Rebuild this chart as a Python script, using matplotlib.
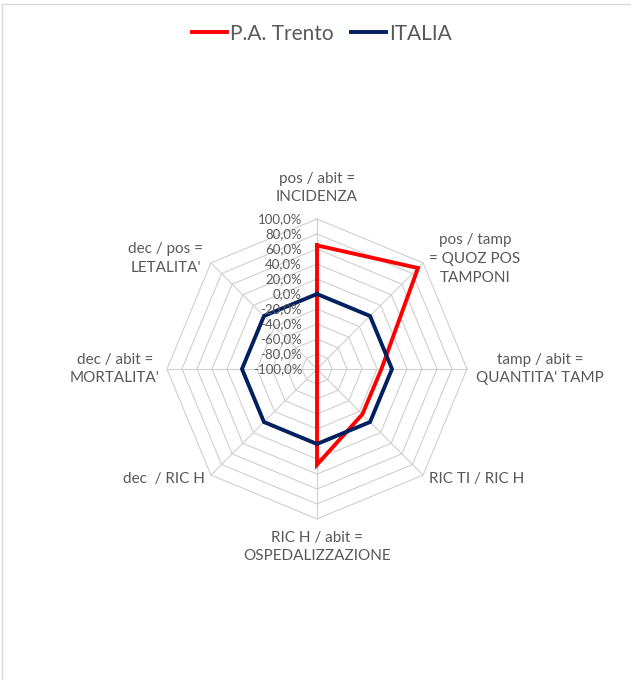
import numpy as np
import matplotlib.pyplot as plt
from matplotlib.lines import Line2D

# etichette degli assi (in senso orario partendo dall'alto)
categorie = [
    "pos / abit =\nINCIDENZA",
    "pos / tamp\n= QUOZ POS\nTAMPONI",
    "tamp / abit =\nQUANTITA' TAMP",
    "RIC TI / RIC H",
    "RIC H / abit =\nOSPEDALIZZAZIONE",
    "dec  / RIC H",
    "dec / abit =\nMORTALITA'",
    "dec / pos =\nLETALITA'",
]
trento = [64.8, 90.4, -14.1, -14.5, 27.6, -100.0, -100.0, -100.0]
italia = [0.0, 0.0, 0.0, 0.0, 0.0, 0.0, 0.0, 0.0]
tick_valori = [-100, -80, -60, -40, -20, 0, 20, 40, 60, 80, 100]

# spostamenti delle etichette rispetto al vertice esterno (pixel)
offset_etichette = [(0, 31), (52, 4), (73, 0), (54, -4),
                    (0, -28), (-47, -4), (-52, 0), (-45, 4)]

GRIGIO = "#595959"
GRIGLIA = "#CFCFCF"
ROSSO = "#FF0000"
BLU = "#002060"

plt.rcParams['font.family'] = ['Lato', 'DejaVu Sans']

fig = plt.figure(figsize=(6.31, 6.80), dpi=100)
ax = fig.add_axes([167 / 631, 161 / 680, 300 / 631, 300 / 680], projection='polar')
ax.set_theta_zero_location('N')
ax.set_theta_direction(-1)
ax.set_ylim(-100, 100)
ax.grid(False)
ax.set_xticks([])
ax.set_yticks([])
ax.spines['polar'].set_visible(False)
ax.patch.set_visible(False)

n = len(categorie)
angoli = np.linspace(0, 2 * np.pi, n, endpoint=False)
chiuso = np.concatenate([angoli, angoli[:1]])

# griglia ottagonale
for v in tick_valori[1:]:
    ax.plot(chiuso, [v] * (n + 1), color=GRIGLIA, lw=0.8, clip_on=False, zorder=1)
for a in angoli:
    ax.plot([a, a], [-100, 100], color=GRIGLIA, lw=0.8, clip_on=False, zorder=1)

# serie
ax.plot(chiuso, trento + trento[:1], color=ROSSO, lw=2.8, clip_on=False,
        solid_joinstyle='miter', zorder=3, label='P.A. Trento')
ax.plot(chiuso, italia + italia[:1], color=BLU, lw=2.8, clip_on=False,
        solid_joinstyle='miter', zorder=4, label='ITALIA')

# etichette dei valori sull'asse verticale
for v in tick_valori:
    testo = f"{v:.1f}%".replace('.', ',')
    ax.annotate(testo, xy=(0, v), xytext=(-15, 0), textcoords='offset pixels',
                ha='right', va='center', fontsize=9.5, color=GRIGIO, zorder=5)

# etichette delle categorie
for a, etichetta, (dx, dy) in zip(angoli, categorie, offset_etichette):
    ax.annotate(etichetta, xy=(a, 100), xytext=(dx, dy), textcoords='offset pixels',
                ha='center', va='center', multialignment='center',
                fontsize=11, color=GRIGIO, linespacing=1.45)

fig.legend(loc='upper center', bbox_to_anchor=(0.51, 0.993), ncol=2, frameon=False,
           fontsize=15, labelcolor=GRIGIO, handlelength=1.7, handletextpad=0.15,
           columnspacing=0.8)

# bordo del grafico (visibile solo in alto e a sinistra)
fig.add_artist(Line2D([1.5 / 631, 1.5 / 631, 1.0], [0.0, 1 - 4 / 680, 1 - 4 / 680],
                      transform=fig.transFigure, color="#D9D9D9", lw=1.0))

fig.savefig("out.png", dpi=100, facecolor='white')
